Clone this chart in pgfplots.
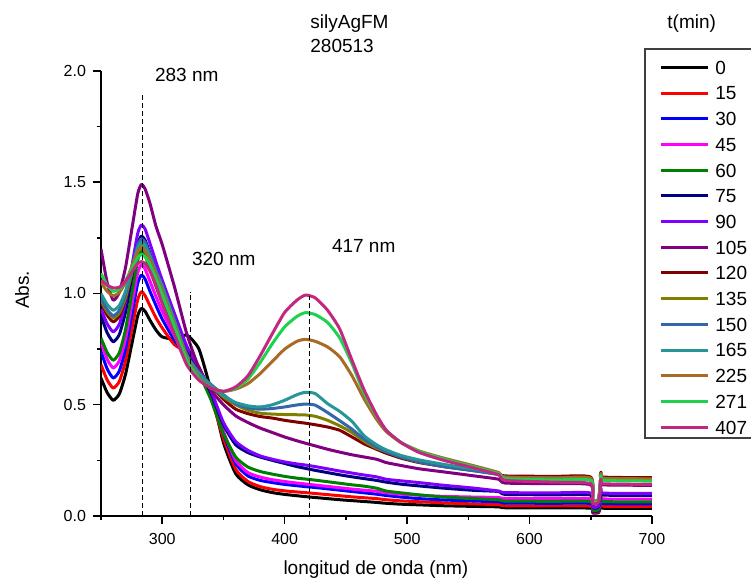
\documentclass[border=0pt]{standalone}
\usepackage{fontspec}
\setmainfont{Liberation Sans}
\usepackage{pgfplots}
\usepackage{pgfplotstable}
\pgfplotsset{compat=1.18}

\definecolor{cA}{RGB}{0,0,0}
\definecolor{cB}{RGB}{255,0,0}
\definecolor{cC}{RGB}{0,0,255}
\definecolor{cD}{RGB}{255,0,255}
\definecolor{cE}{RGB}{0,128,0}
\definecolor{cF}{RGB}{0,0,128}
\definecolor{cG}{RGB}{128,0,255}
\definecolor{cH}{RGB}{128,0,128}
\definecolor{cI}{RGB}{128,0,0}
\definecolor{cJ}{RGB}{128,128,0}
\definecolor{cK}{RGB}{51,102,170}
\definecolor{cL}{RGB}{38,150,150}
\definecolor{cM}{RGB}{168,106,36}
\definecolor{cN}{RGB}{30,210,80}
\definecolor{cO}{RGB}{194,40,128}

% absorbance spectra, one column per time (min)
\pgfplotstableread{
nm    s0   s15   s30   s45   s60   s75   s90   s105  s120  s135  s150  s165  s225  s271  s407
250   .62  .68   .74   .78   .80   .90   .93   1.20  .96   .97   .98   1.00  1.05  1.09  1.06
255   .555 .612  .662  .705  .735  .824  .864  1.05  .903  .918  .928  .951  1.01  1.038 1.038
260   .52  .575  .62   .665  .70   .783  .828  .97   .873  .89   .90   .925  .99   1.01  1.025
265   .549 .605  .652  .698  .734  .816  .862  1.006 .898  .913  .924  .946  1.005 1.02  1.028
270   .636 .696  .75   .795  .837  .916  .962  1.116 .974  .982  .997  1.01  1.05  1.056 1.055
275   .768 .835  .898  .944  .994  1.068 1.116 1.282 1.09  1.088 1.107 1.108 1.119 1.109 1.095
280   .90  .973  1.046 1.093 1.151 1.22  1.27  1.448 1.206 1.194 1.217 1.206 1.188 1.162 1.135
283   .933 1.008 1.083 1.13  1.19  1.258 1.308 1.49  1.235 1.22  1.245 1.23  1.205 1.175 1.143
286   .92  .99   1.065 1.11  1.17  1.24  1.29  1.47  1.22  1.205 1.23  1.215 1.19  1.165 1.135
290   .88  .945  1.01  1.055 1.11  1.18  1.225 1.405 1.17  1.155 1.175 1.165 1.15  1.13  1.10
295   .835 .89   .945  .985  1.03  1.10  1.14  1.30  1.10  1.085 1.10  1.095 1.08  1.065 1.035
300   .805 .845  .885  .92   .96   1.02  1.06  1.22  1.03  1.02  1.035 1.03  1.01  .995  .955
310   .795 .77   .79   .81   .84   .88   .91   1.03  .88   .87   .88   .875  .86   .85   .815
320   .813 .735  .72   .725  .725  .75   .765  .82   .73   .72   .725  .72   .71   .70   .68
330   .75  .67   .655  .65   .64   .655  .665  .665  .645  .64   .645  .64   .62   .615  .61
340   .56  .53   .535  .54   .52   .55   .56   .565  .585  .585  .59   .585  .575  .575  .575
350   .33  .35   .37   .38   .37   .41   .42   .50   .525  .535  .545  .54   .56   .56   .56
360   .19  .21   .235  .25   .265  .32   .335  .45   .48   .50   .505  .51   .57   .575  .58
370   .14  .155  .18   .195  .22   .285  .295  .42   .46   .475  .485  .495  .595  .615  .63
380   .118 .132  .16   .175  .20   .265  .27   .395  .447  .462  .48   .49   .64   .69   .72
390   .105 .12   .15   .163  .188  .25   .255  .375  .44   .458  .483  .50   .695  .775  .82
400   .097 .113  .142  .155  .178  .236  .243  .355  .43   .456  .49   .52   .75   .85   .915
410   .091 .108  .136  .148  .17   .222  .234  .338  .422  .455  .499  .545  .785  .897  .97
417   .087 .105  .132  .144  .166  .214  .229  .327  .417  .454  .503  .556  .794  .914  .993
425   .083 .101  .128  .139  .161  .205  .222  .315  .41   .448  .498  .55   .785  .905  .98
435   .078 .096  .122  .133  .154  .195  .212  .30   .40   .43   .465  .505  .76   .87   .925
445   .073 .091  .116  .127  .147  .185  .202  .287  .385  .405  .428  .47   .715  .80   .84
455   .069 .086  .11   .121  .14   .176  .193  .275  .355  .375  .39   .425  .63   .685  .70
465   .065 .082  .104  .116  .134  .168  .184  .265  .324  .335  .345  .36   .525  .55   .565
475   .061 .078  .098  .111  .125  .16   .176  .255  .30   .305  .31   .32   .435  .45   .455
483   .057 .073  .092  .104  .112  .152  .165  .24   .282  .289  .289  .297  .379  .385  .385
495   .053 .068  .085  .098  .104  .143  .158  .227  .26   .265  .265  .272  .33   .33   .33
510   .05  .064  .078  .093  .095  .135  .15   .212  .24   .243  .243  .252  .292  .29   .285
530   .046 .059  .072  .088  .085  .125  .138  .198  .222  .222  .222  .232  .26   .255  .25
555   .043 .054  .067  .085  .078  .115  .125  .18   .205  .203  .203  .21   .225  .22   .215
575   .041 .051  .064  .083  .073  .11   .112  .165  .19   .188  .185  .19   .195  .19   .185
580   .037 .046  .058  .079  .067  .097  .105  .148  .18   .173  .17   .175  .175  .168  .16
620   .036 .045  .057  .078  .066  .095  .104  .145  .178  .171  .168  .17   .17   .162  .152
650   .035 .044  .056  .077  .065  .094  .103  .14   .175  .17   .166  .166  .168  .16   .145
651.5 .014 .018  .022  .031  .026  .038  .041  .056  .07   .068  .066  .066  .067  .064  .058
656.5 .016 .02   .025  .035  .03   .042  .046  .063  .079  .077  .075  .075  .076  .072  .065
658.5 .055 .064  .076  .097  .085  .114  .123  .16   .195  .19   .186  .186  .188  .18   .165
660   .035 .044  .056  .077  .065  .094  .103  .14   .175  .17   .166  .166  .168  .16   .145
700   .034 .043  .055  .076  .064  .093  .102  .138  .172  .167  .163  .163  .165  .157  .142
}\spectra

\begin{document}
\begin{tikzpicture}
\begin{axis}[
  at={(0,0)}, anchor=south west,
  scale only axis, width=275.5pt, height=222.5pt,
  xmin=250, xmax=700, ymin=0, ymax=2,
  clip mode=individual,
  axis x line*=bottom, axis y line*=left,
  axis line style={line width=0.75pt, -},
  xtick={300,400,...,700}, minor xtick={250,350,...,650},
  ytick={0,0.5,...,2}, minor ytick={0.25,0.75,...,1.75},
  tick align=outside,
  major tick length=4pt, minor tick length=2pt,
  every tick/.style={black, line width=0.75pt},
  /pgf/number format/assume math mode=true,
  yticklabel style={/pgf/number format/.cd, fixed, fixed zerofill, precision=1},
  xticklabel style={yshift=-1pt, /pgf/number format/.cd, fixed, precision=0},
  tick label style={font=\fontsize{8}{9.6}\selectfont},
  label style={font=\fontsize{9.5}{11.4}\selectfont},
  xlabel={longitud de onda (nm)},
  ylabel={Abs.},
  xlabel style={at={(axis description cs:0.499,-0.121)}, anchor=center},
  ylabel style={at={(axis description cs:-0.143,0.508)}, anchor=center},
  every axis plot/.append style={line width=1.5pt, line join=round, no markers,
    smooth, tension=0.35},
  legend style={at={(axis description cs:1.0127,1.0245)}, anchor=north west,
    draw=none, fill=none, inner xsep=0pt, inner ysep=0pt,
    font=\fontsize{9.5}{11.4}\selectfont, legend cell align=left,
    nodes={inner sep=0pt, text height=6.9pt, text depth=0pt},
    row sep=5.95pt,
    /tikz/every odd column/.append style={column sep=3pt}},
  legend image code/.code={\draw[#1, line width=1.5pt, sharp plot] (0pt,0pt) -- (23.5pt,0pt);},
]
\addplot[cA] table[x=nm, y=s0] {\spectra};
\addplot[cB] table[x=nm, y=s15] {\spectra};
\addplot[cC] table[x=nm, y=s30] {\spectra};
\addplot[cD] table[x=nm, y=s45] {\spectra};
\addplot[cE] table[x=nm, y=s60] {\spectra};
\addplot[cF] table[x=nm, y=s75] {\spectra};
\addplot[cG] table[x=nm, y=s90] {\spectra};
\addplot[cH] table[x=nm, y=s105] {\spectra};
\addplot[cI] table[x=nm, y=s120] {\spectra};
\addplot[cJ] table[x=nm, y=s135] {\spectra};
\addplot[cK] table[x=nm, y=s150] {\spectra};
\addplot[cL] table[x=nm, y=s165] {\spectra};
\addplot[cM] table[x=nm, y=s225] {\spectra};
\addplot[cN] table[x=nm, y=s271] {\spectra};
\addplot[cO] table[x=nm, y=s407] {\spectra};
\legend{0,15,30,45,60,75,90,105,120,135,150,165,225,271,407}

% peak markers
\draw[black, line width=0.5pt, dash pattern=on 2.5pt off 1.5pt]
  (axis cs:283.5,0) -- (axis cs:283.5,1.90);
\draw[black, line width=0.5pt, dash pattern=on 2.5pt off 1.5pt]
  (axis cs:322.7,0) -- (axis cs:322.7,1.007);
\draw[black, line width=0.5pt, dash pattern=on 2.5pt off 1.5pt]
  (axis cs:420,0) -- (axis cs:420,0.99);
\node[anchor=base west, font=\fontsize{9.5}{11.4}\selectfont] at (axis cs:288.4,1.951) {283 nm};
\node[anchor=base west, font=\fontsize{9.5}{11.4}\selectfont] at (axis cs:318.6,1.128) {320 nm};
\node[anchor=base west, font=\fontsize{9.5}{11.4}\selectfont] at (axis cs:432.9,1.182) {417 nm};
\end{axis}

% title, legend frame and legend title
\node[anchor=base west, font=\fontsize{9.5}{11.4}\selectfont, inner sep=0pt] at (104.5pt,243.5pt) {silyAgFM};
\node[anchor=base west, font=\fontsize{9.5}{11.4}\selectfont, inner sep=0pt] at (104.5pt,231.5pt) {280513};
\node[anchor=base west, font=\fontsize{9.5}{11.4}\selectfont, inner sep=0pt] at (283pt,243.5pt) {t(min)};
\draw[black!75, line width=0.6pt] (272pt,39pt) rectangle (327pt,233.5pt);

\pgfresetboundingbox
\path[use as bounding box] (-50.5pt,-32.5pt) rectangle (325pt,258pt);
\end{tikzpicture}
\end{document}
